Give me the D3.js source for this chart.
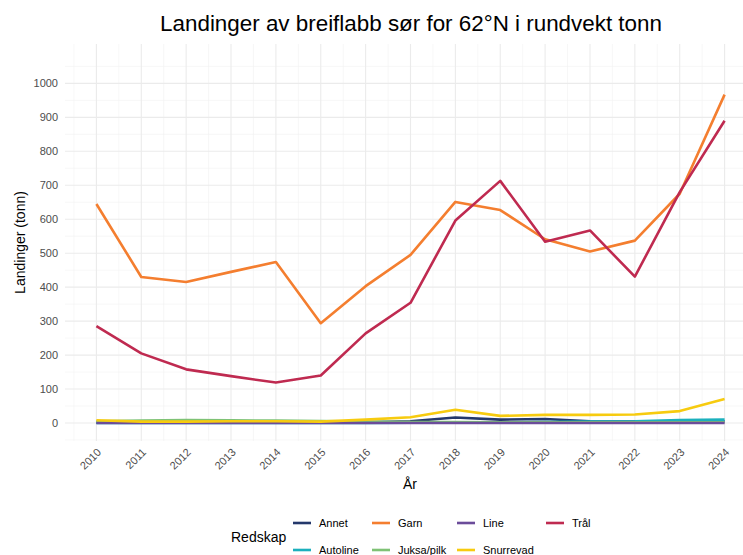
<!DOCTYPE html>
<html>
<head>
<meta charset="utf-8">
<script src="https://cdn.jsdelivr.net/npm/d3@7"></script>
<style>
  body { margin: 0; background: #fff; }
  svg { display: block; font-family: "Liberation Sans", Arial, sans-serif; }
</style>
</head>
<body>
<div id="chart"></div>
<script>
// data (tonn)
const years = [2010, 2011, 2012, 2013, 2014, 2015, 2016, 2017, 2018, 2019, 2020, 2021, 2022, 2023, 2024];
const annet     = [1, 1, 1, 1, 1, 1, 2, 5, 16, 10, 12, 5, 4, 5, 5];
const autoline  = [0, 0, 0, 0, 0, 0, 0, 1, 2, 2, 3, 4, 5, 9, 10];
const garn      = [645, 430, 415, 445, 474, 294, 403, 495, 651, 627, 541, 505, 537, 675, 967];
const juksa     = [5, 7, 9, 8, 7, 6, 4, 3, 3, 2, 2, 2, 2, 2, 2];
const line      = [0, 0, 0, 0, 0, 0, 0, 0, 0, 0, 0, 0, 0, 0, 0];
const snurrevad = [8, 4, 4, 5, 5, 4, 10, 17, 39, 21, 24, 24, 25, 35, 71];
const tral      = [285, 205, 158, 138, 119, 140, 264, 354, 596, 713, 534, 567, 431, 680, 890];
const yTicks = [0, 100, 200, 300, 400, 500, 600, 700, 800, 900, 1000];

const series = [
  { name: "Annet", values: annet, color: "#24386b" },
  { name: "Autoline", values: autoline, color: "#1bb0bd" },
  { name: "Garn", values: garn, color: "#f47e2f" },
  { name: "Juksa/pilk", values: juksa, color: "#7fc275" },
  { name: "Line", values: line, color: "#6b4c9a" },
  { name: "Snurrevad", values: snurrevad, color: "#f7cb0f" },
  { name: "Trål", values: tral, color: "#bf2a50" },
];

const W = 743, H = 555;
const panel = { left: 65, right: 756, top: 44, bottom: 441 };

const svg = d3.select("#chart").append("svg")
  .attr("width", W).attr("height", H);

const x = d3.scaleLinear().domain([2009.3, 2024.7]).range([panel.left, panel.right]);
const y = d3.scaleLinear().domain([-53, 1116]).range([panel.bottom, panel.top]);

// grid
const grid = svg.append("g");
const minorY = d3.range(-50, 1101, 100);
const minorX = d3.range(2009.5, 2025, 1);
grid.selectAll(".minx").data(minorX).enter().append("line")
  .attr("x1", d => x(d)).attr("x2", d => x(d))
  .attr("y1", panel.top).attr("y2", panel.bottom)
  .attr("stroke", "#f2f2f2").attr("stroke-width", 0.6);
grid.selectAll(".miny").data(minorY).enter().append("line")
  .attr("x1", panel.left).attr("x2", panel.right)
  .attr("y1", d => y(d)).attr("y2", d => y(d))
  .attr("stroke", "#f2f2f2").attr("stroke-width", 0.6);
grid.selectAll(".majx").data(years).enter().append("line")
  .attr("x1", d => x(d)).attr("x2", d => x(d))
  .attr("y1", panel.top).attr("y2", panel.bottom)
  .attr("stroke", "#ebebeb").attr("stroke-width", 1.1);
grid.selectAll(".majy").data(yTicks).enter().append("line")
  .attr("x1", panel.left).attr("x2", panel.right)
  .attr("y1", d => y(d)).attr("y2", d => y(d))
  .attr("stroke", "#ebebeb").attr("stroke-width", 1.1);

// axes (text only, like theme_minimal)
const yAxis = svg.append("g")
  .attr("transform", `translate(${panel.left},0)`)
  .call(d3.axisLeft(y).tickValues(yTicks).tickFormat(d3.format("d")).tickSize(0).tickPadding(7));
yAxis.select(".domain").remove();
yAxis.selectAll("text").attr("fill", "#4d4d4d").style("font-size", "11px")
  .style("font-family", "Liberation Sans, Arial, sans-serif");

const xAxis = svg.append("g")
  .attr("transform", `translate(0,${panel.bottom})`)
  .call(d3.axisBottom(x).tickValues(years).tickFormat(d3.format("d")).tickSize(0));
xAxis.select(".domain").remove();
xAxis.selectAll("text")
  .attr("fill", "#4d4d4d").style("font-size", "11px")
  .style("font-family", "Liberation Sans, Arial, sans-serif")
  .attr("text-anchor", "end")
  .attr("dy", null).attr("y", 0)
  .attr("transform", "translate(5,12) rotate(-45)");

// lines
const lineGen = d3.line()
  .x((d, i) => x(years[i]))
  .y(d => y(d));

svg.append("g").selectAll("path").data(series).enter().append("path")
  .attr("d", d => lineGen(d.values))
  .attr("fill", "none")
  .attr("stroke", d => d.color)
  .attr("stroke-width", 2.6)
  .attr("stroke-linejoin", "round");

// titles
svg.append("text")
  .attr("x", 411).attr("y", 31)
  .attr("text-anchor", "middle")
  .style("font-size", "22.4px")
  .attr("fill", "#000")
  .text("Landinger av breiflabb sør for 62°N i rundvekt tonn");

svg.append("text")
  .attr("x", 410).attr("y", 489)
  .attr("text-anchor", "middle")
  .style("font-size", "14px")
  .text("År");

svg.append("text")
  .attr("transform", `translate(25,${(panel.top + panel.bottom) / 2}) rotate(-90)`)
  .attr("text-anchor", "middle")
  .style("font-size", "14px")
  .text("Landinger (tonn)");

// legend
const legend = svg.append("g");
legend.append("text")
  .attr("x", 231).attr("y", 542)
  .style("font-size", "14px")
  .text("Redskap");

const colX = [293, 372, 457, 546];
const rowY = [523, 550];
const items = legend.selectAll(".item").data(series).enter().append("g")
  .attr("transform", (d, i) => `translate(${colX[Math.floor(i / 2)]},${rowY[i % 2]})`);
items.append("line")
  .attr("x1", 0).attr("x2", 18).attr("y1", 0).attr("y2", 0)
  .attr("stroke", d => d.color).attr("stroke-width", 2.6);
items.append("text")
  .attr("x", 26).attr("y", 4)
  .style("font-size", "11px")
  .text(d => d.name);
</script>
</body>
</html>
